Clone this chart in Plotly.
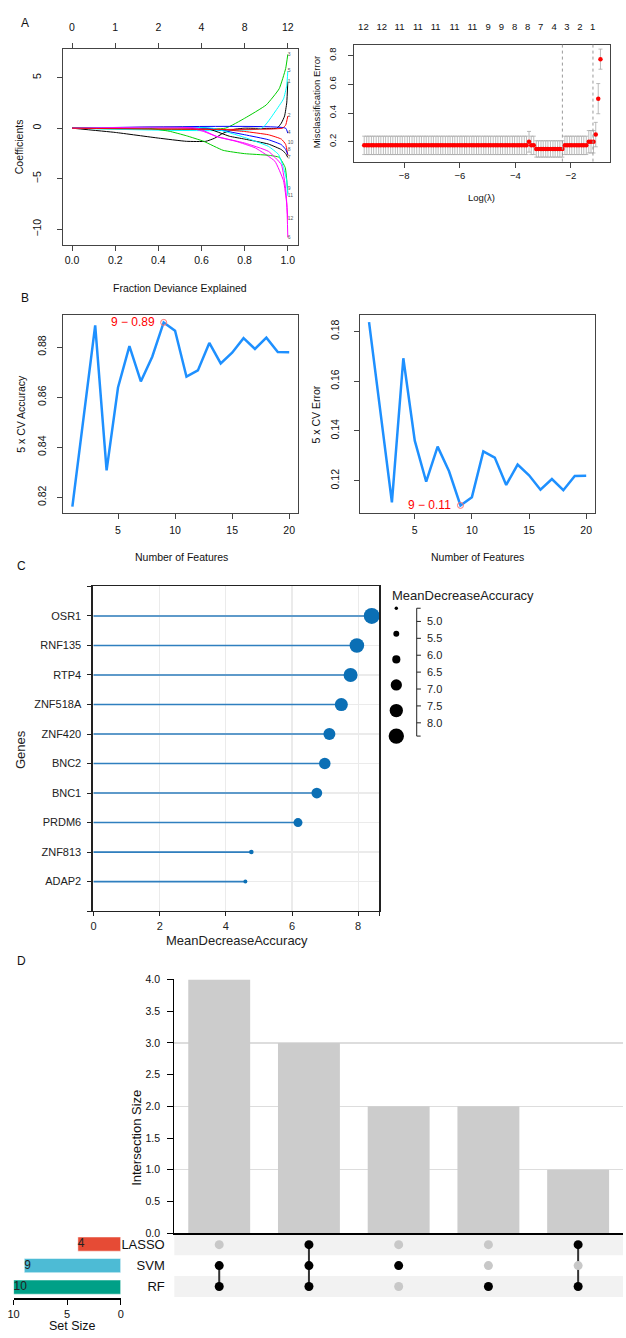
import plotly.graph_objects as go

W, H = 626, 1338
FONT = "Liberation Sans, Arial, Helvetica, sans-serif"


def fx(px):
    return px / W


def fy(py):
    return 1 - py / H


# ---------------- Panel A (left): LASSO coefficient paths ----------------
black1_dev = [0, 0.2, 0.4, 0.53, 0.62, 0.66, 0.70, 0.75, 0.80, 0.95, 0.97, 0.985, 0.995, 1.0]
black1_coef = [0, -0.42, -0.98, -1.3, -1.3, -1.0, -0.5, -0.12, 0, 0, 0.5, 1.2, 2.5, 4.6]
red1_dev = [0, 0.975, 0.99, 1.0]
red1_coef = [0, 0, 0.3, 1.2]
green1_dev = [0, 0.71, 0.8, 0.9, 0.96, 0.99, 1.0]
green1_coef = [0, 0, 0.98, 2.3, 3.9, 5.9, 7.3]
blue1_dev = [0, 0.99, 1.0]
blue1_coef = [0, 0, -0.5]
cyan1_dev = [0, 0.88, 0.94, 0.98, 0.995, 1.0]
cyan1_coef = [0, 0, 1.6, 2.9, 4.2, 5.65]
magenta1_dev = [0, 0.55, 0.61, 0.68, 0.76, 0.85, 0.94, 0.98, 0.995, 1.0]
magenta1_coef = [0, 0, -0.33, -0.9, -1.3, -1.96, -3.27, -5.2, -7.5, -10.8]
black2_dev = [0, 0.62, 0.73, 0.8, 0.91, 0.97, 0.99, 1.0]
black2_coef = [0, 0, -0.8, -1.08, -1.57, -2.12, -2.5, -2.9]
red2_dev = [0, 0.6, 0.8, 0.91, 0.97, 0.99, 1.0]
red2_coef = [0, 0, -0.33, -0.65, -1.08, -1.6, -2.68]
green2_dev = [0, 0.35, 0.45, 0.53, 0.61, 0.7, 0.8, 0.91, 0.96, 0.988, 1.0]
green2_coef = [0, 0, -0.3, -0.75, -1.3, -2.19, -2.52, -2.68, -2.88, -3.9, -6.4]
blue2_dev = [0, 0.63, 0.8, 0.91, 0.97, 0.99, 1.0]
blue2_coef = [0, 0, -0.65, -1.14, -1.63, -2.1, -2.6]
cyan2_dev = [0, 0.65, 0.8, 0.91, 0.957, 0.98, 0.995, 1.0]
cyan2_coef = [0, 0, -0.92, -1.8, -2.6, -3.9, -5.2, -6.7]
magenta2_dev = [0, 0.58, 0.67, 0.8, 0.91, 0.97, 0.99, 1.0]
magenta2_coef = [0, 0, -0.82, -1.47, -2.29, -3.6, -6.0, -9.0]

dev_ticks = [0, 0.2, 0.4, 0.6, 0.8, 1.0]
df_top_labels = ["0", "1", "2", "4", "8", "12"]

# ---------------- Panel A (right): CV misclassification error ----------------
log_lambda = [-9.44, -9.35, -9.27, -9.18, -9.10, -9.01, -8.92, -8.84, -8.75, -8.67,
              -8.58, -8.49, -8.41, -8.32, -8.24, -8.15, -8.07, -7.98, -7.89, -7.81,
              -7.72, -7.64, -7.55, -7.46, -7.38, -7.29, -7.21, -7.12, -7.03, -6.95,
              -6.86, -6.78, -6.69, -6.61, -6.52, -6.43, -6.35, -6.26, -6.18, -6.09,
              -6.00, -5.92, -5.83, -5.75, -5.66, -5.57, -5.49, -5.40, -5.32, -5.23,
              -5.14, -5.06, -4.97, -4.89, -4.80, -4.71, -4.63, -4.54, -4.46, -4.37,
              -4.29, -4.20, -4.11, -4.03, -3.94, -3.86, -3.77, -3.68, -3.60, -3.51,
              -3.43, -3.34, -3.25, -3.17, -3.08, -3.00, -2.91, -2.83, -2.74, -2.65,
              -2.57, -2.48, -2.40, -2.31, -2.22, -2.14, -2.05, -1.97, -1.88, -1.79,
              -1.71, -1.62, -1.54, -1.45, -1.36, -1.28, -1.19, -1.11, -1.02, -0.94]
cv_error = [0.175, 0.175, 0.175, 0.175, 0.175, 0.175, 0.175, 0.175, 0.175, 0.175,
            0.175, 0.175, 0.175, 0.175, 0.175, 0.175, 0.175, 0.175, 0.175, 0.175,
            0.175, 0.175, 0.175, 0.175, 0.175, 0.175, 0.175, 0.175, 0.175, 0.175,
            0.175, 0.175, 0.175, 0.175, 0.175, 0.175, 0.175, 0.175, 0.175, 0.175,
            0.175, 0.175, 0.175, 0.175, 0.175, 0.175, 0.175, 0.175, 0.175, 0.175,
            0.175, 0.175, 0.175, 0.175, 0.175, 0.175, 0.175, 0.175, 0.175, 0.175,
            0.175, 0.175, 0.175, 0.175, 0.175, 0.175, 0.175, 0.175, 0.175, 0.200,
            0.175, 0.175, 0.150, 0.150, 0.150, 0.150, 0.150, 0.150, 0.150, 0.150,
            0.150, 0.150, 0.150, 0.150, 0.175, 0.175, 0.175, 0.175, 0.175, 0.175,
            0.175, 0.175, 0.175, 0.175, 0.200, 0.200, 0.200, 0.250, 0.500, 0.775]
cv_se = [0.064, 0.064, 0.064, 0.064, 0.064, 0.064, 0.064, 0.064, 0.064, 0.064,
         0.064, 0.064, 0.064, 0.064, 0.064, 0.064, 0.064, 0.064, 0.064, 0.064,
         0.064, 0.064, 0.064, 0.064, 0.064, 0.064, 0.064, 0.064, 0.064, 0.064,
         0.064, 0.064, 0.064, 0.064, 0.064, 0.064, 0.064, 0.064, 0.064, 0.064,
         0.064, 0.064, 0.064, 0.064, 0.064, 0.064, 0.064, 0.064, 0.064, 0.064,
         0.064, 0.064, 0.064, 0.064, 0.064, 0.064, 0.064, 0.064, 0.064, 0.064,
         0.064, 0.064, 0.064, 0.064, 0.064, 0.064, 0.064, 0.064, 0.064, 0.072,
         0.064, 0.064, 0.057, 0.057, 0.057, 0.057, 0.057, 0.057, 0.057, 0.057,
         0.057, 0.057, 0.057, 0.057, 0.064, 0.064, 0.064, 0.064, 0.064, 0.064,
         0.064, 0.064, 0.064, 0.064, 0.078, 0.078, 0.078, 0.085, 0.105, 0.070]
lambda_min_log = -2.31
lambda_1se_log = -1.21
top_loglam = [-9.47, -8.81, -8.17, -7.51, -6.87, -6.19, -5.55, -4.98,
              -4.50, -4.03, -3.56, -3.09, -2.61, -2.15, -1.68, -1.22]
top_df = ["12", "12", "11", "11", "11", "11", "11", "9", "9", "8", "8", "7", "4", "3", "2", "1"]

# ---------------- Panel B: SVM-RFE cross validation ----------------
n_features = [1, 2, 3, 4, 5, 6, 7, 8, 9, 10, 11, 12, 13, 14, 15, 16, 17, 18, 19, 20]
cv_accuracy = [0.8163, 0.8526, 0.8887, 0.8308, 0.8639, 0.8804, 0.8663, 0.8762, 0.8899, 0.8866,
               0.8682, 0.8707, 0.8817, 0.8735, 0.8778, 0.8836, 0.8793, 0.8838, 0.8781, 0.8780]
cv_err5 = [round(1 - a, 4) for a in cv_accuracy]

# ---------------- Panel C: random forest importance ----------------
genes = ["OSR1", "RNF135", "RTP4", "ZNF518A", "ZNF420", "BNC2", "BNC1", "PRDM6", "ZNF813", "ADAP2"]
mda = [8.41, 7.96, 7.77, 7.49, 7.13, 6.99, 6.75, 6.18, 4.77, 4.59]
legend_mda_values = [4.4, 5.2, 5.9, 6.9, 7.55, 8.2]
legend_labels = ["5.0", "5.5", "6.0", "6.5", "7.0", "7.5", "8.0"]

# ---------------- Panel D: UpSet ----------------
set_names = ["LASSO", "SVM", "RF"]
set_sizes = [4, 9, 10]
set_colors = ["#E64B35", "#4DBBD5", "#00A087"]
intersections = [["SVM", "RF"], ["LASSO", "SVM", "RF"], ["SVM"], ["RF"], ["LASSO", "RF"]]
intersection_sizes = [4, 3, 2, 2, 1]

# =====================================================================
fig = go.Figure()
NOHOV = dict(hoverinfo="skip", showlegend=False)
ann = []

paths = [
    (black1_dev, black1_coef, "black", "1"),
    (green1_dev, green1_coef, "#00CD00", "3"),
    (blue1_dev, blue1_coef, "blue", "4"),
    (cyan1_dev, cyan1_coef, "cyan", "5"),
    (magenta1_dev, magenta1_coef, "magenta", "6"),
    (black2_dev, black2_coef, "black", "7"),
    (red2_dev, red2_coef, "red", "8"),
    (green2_dev, green2_coef, "#00CD00", "9"),
    (blue2_dev, blue2_coef, "blue", "10"),
    (cyan2_dev, cyan2_coef, "cyan", "11"),
    (magenta2_dev, magenta2_coef, "magenta", "12"),
    (red1_dev, red1_coef, "red", "2"),
]
for dev, coef, col, lab in paths:
    fig.add_trace(go.Scatter(x=dev, y=coef, mode="lines",
                             line=dict(color=col, width=1, shape="spline", smoothing=0.4),
                             xaxis="x", yaxis="y", **NOHOV))

ends = sorted([(p[1][-1], p[3]) for p in paths])
lab_y, last = [], None
for v, _ in ends:
    y = v if last is None else max(v, last + 0.75)
    lab_y.append(y)
    last = y
fig.add_trace(go.Scatter(x=[1.0] * len(ends), y=lab_y,
                         mode="text", text=[e[1] for e in ends], textposition="middle right",
                         textfont=dict(size=5, color="#555", family=FONT),
                         xaxis="x", yaxis="y", cliponaxis=False, **NOHOV))
fig.add_trace(go.Scatter(x=[], y=[], xaxis="x2", yaxis="y", **NOHOV))

fig.add_trace(go.Scatter(x=log_lambda, y=cv_error, mode="markers",
                         marker=dict(color="red", size=4.5, opacity=1),
                         error_y=dict(type="data", array=cv_se, color="#AAAAAA", thickness=0.8, width=2),
                         xaxis="x3", yaxis="y3", **NOHOV))
fig.add_trace(go.Scatter(x=[], y=[], xaxis="x4", yaxis="y3", **NOHOV))

best_i = max(range(len(cv_accuracy)), key=lambda i: cv_accuracy[i])
best_j = min(range(len(cv_err5)), key=lambda i: cv_err5[i])
for vals, bi, xa, ya in ((cv_accuracy, best_i, "x5", "y5"), (cv_err5, best_j, "x6", "y6")):
    fig.add_trace(go.Scatter(x=n_features, y=vals, mode="lines",
                             line=dict(color="#1E90FF", width=2.5), xaxis=xa, yaxis=ya, **NOHOV))
    fig.add_trace(go.Scatter(x=[n_features[bi]], y=[vals[bi]], mode="markers",
                             marker=dict(symbol="circle-open", size=6, color="#FF7070", line=dict(width=1)),
                             xaxis=xa, yaxis=ya, cliponaxis=False, **NOHOV))
    ann.append(dict(text=f"{n_features[bi]} \u2212 {vals[bi]:.2f}", x=n_features[bi], y=vals[bi],
                    xref=xa, yref=ya, xanchor="right", yanchor="middle", xshift=-7, showarrow=False,
                    font=dict(color="red", size=12, family=FONT)))

ng = len(genes)
gpos = [ng - i for i in range(ng)]
vmin, vmax = min(mda), max(mda)


def dot_d(v):
    return 4 + (v - vmin) / (vmax - vmin) * 12


seg_x, seg_y = [], []
for v, p in zip(mda, gpos):
    seg_x += [0, v, None]
    seg_y += [p, p, None]
fig.add_trace(go.Scatter(x=seg_x, y=seg_y, mode="lines", line=dict(color="#2F7FBF", width=1.6),
                         xaxis="x7", yaxis="y7", **NOHOV))
fig.add_trace(go.Scatter(x=mda, y=gpos, mode="markers",
                         marker=dict(color="#0B6FB5", size=[dot_d(v) for v in mda], line=dict(width=0),
                                     opacity=1),
                         xaxis="x7", yaxis="y7", cliponaxis=False, **NOHOV))
leg_dot_y = [607.7 + k * 25.8 for k in range(len(legend_mda_values))]
fig.add_trace(go.Scatter(x=[396] * len(legend_mda_values), y=leg_dot_y, mode="markers",
                         marker=dict(color="black", size=[dot_d(v) for v in legend_mda_values],
                                     line=dict(width=0), opacity=1),
                         xaxis="x8", yaxis="y8", cliponaxis=False, **NOHOV))

ix = list(range(1, len(intersections) + 1))
fig.add_trace(go.Bar(x=ix, y=intersection_sizes, width=0.69, marker=dict(color="#CCCCCC", line=dict(width=0)),
                     xaxis="x9", yaxis="y9", **NOHOV))
row_of = {s: len(set_names) - k for k, s in enumerate(set_names)}
for i, members in zip(ix, intersections):
    rows = [row_of[m] for m in members]
    if len(rows) > 1:
        fig.add_trace(go.Scatter(x=[i, i], y=[min(rows), max(rows)], mode="lines",
                                 line=dict(color="#333333", width=2), xaxis="x10", yaxis="y10", **NOHOV))
mx, my, mc = [], [], []
for i, members in zip(ix, intersections):
    for s in set_names:
        mx.append(i)
        my.append(row_of[s])
        mc.append("black" if s in members else "#C8C8C8")
fig.add_trace(go.Scatter(x=mx, y=my, mode="markers", marker=dict(color=mc, size=9, opacity=1),
                         xaxis="x10", yaxis="y10", **NOHOV))
fig.add_trace(go.Bar(x=set_sizes, y=[row_of[s] for s in set_names], orientation="h", width=0.66,
                     marker=dict(color=set_colors, line=dict(color="rgba(255,255,255,0.5)", width=1)),
                     xaxis="x11", yaxis="y11", **NOHOV))
fig.add_trace(go.Scatter(x=set_sizes, y=[row_of[s] for s in set_names], mode="text",
                         text=[str(v) for v in set_sizes], textposition="middle right",
                         textfont=dict(size=12, color="#222", family=FONT),
                         xaxis="x11", yaxis="y11", cliponaxis=False, **NOHOV))

BOX = dict(showgrid=False, zeroline=False, showline=True, linecolor="#444", linewidth=1, mirror=True,
           ticks="outside", ticklen=5, tickcolor="#444", tickwidth=1,
           tickfont=dict(size=10.5, color="#111", family=FONT))


def ax(**kw):
    d = dict(BOX)
    d.update(kw)
    return d


yA = [fy(241), fy(43)]
yAr = [fy(157), fy(39)]
yB = [fy(511.7), fy(311.7)]

layout = dict(
    width=W, height=H, margin=dict(l=0, r=0, t=0, b=0), autosize=False,
    paper_bgcolor="white", plot_bgcolor="white", showlegend=False,
    font=dict(family=FONT, color="#111"),
    xaxis=ax(domain=[fx(58), fx(296)], range=[-0.041, 1.046], anchor="y",
             tickvals=dev_ticks, ticktext=["0.0", "0.2", "0.4", "0.6", "0.8", "1.0"], ticklabelstandoff=1),
    yaxis=ax(domain=yA, range=[-11.54, 7.87], anchor="x", tickvals=[-10, -5, 0, 5],
             tickangle=-90, ticklabelstandoff=12),
    xaxis2=dict(overlaying="x", side="top", range=[-0.041, 1.046], anchor="y", showgrid=False, zeroline=False,
                showline=False, ticks="outside", ticklen=5, tickcolor="#444",
                tickvals=dev_ticks, ticktext=df_top_labels, ticklabelstandoff=7,
                tickfont=dict(size=10.5, color="#111", family=FONT)),
    xaxis3=ax(domain=[fx(353), fx(613)], range=[-9.81, -0.59], anchor="y3", tickvals=[-8, -6, -4, -2],
              tickfont=dict(size=9.5, color="#111", family=FONT), ticklabelstandoff=0),
    yaxis3=ax(domain=yAr, range=[0.062, 0.876], anchor="x3", tickvals=[0.2, 0.4, 0.6, 0.8], tickangle=-90,
              tickfont=dict(size=9.5, color="#111", family=FONT), ticklabelstandoff=8),
    xaxis4=dict(overlaying="x3", side="top", range=[-9.81, -0.59], anchor="y3", showgrid=False, zeroline=False,
                showline=False, ticks="", tickvals=top_loglam, ticktext=top_df, ticklabelstandoff=12,
                tickfont=dict(size=9.5, color="#111", family=FONT)),
    xaxis5=ax(domain=[fx(58.3), fx(296.7)], range=[0.22, 20.81], anchor="y5", tickvals=[5, 10, 15, 20],
              ticklabelstandoff=2),
    yaxis5=ax(domain=yB, range=[0.8137, 0.8929], anchor="x5", tickvals=[0.82, 0.84, 0.86, 0.88],
              tickangle=-90, ticklabelstandoff=7),
    xaxis6=ax(domain=[fx(359.3), fx(597.7)], range=[0.22, 20.78], anchor="y6", tickvals=[5, 10, 15, 20],
              ticklabelstandoff=2),
    yaxis6=ax(domain=yB, range=[0.107, 0.1866], anchor="x6", tickvals=[0.12, 0.14, 0.16, 0.18],
              tickangle=-90, ticklabelstandoff=11),
    xaxis7=dict(domain=[fx(88), fx(378.8)], range=[-0.025, 8.64], anchor="y7", zeroline=False,
                showline=True, mirror=True, linecolor="#222", linewidth=1.3,
                showgrid=True, gridcolor="#EBEBEB", gridwidth=1.2,
                ticks="outside", ticklen=4, tickcolor="#222",
                tickvals=[0, 2, 4, 6, 8, 8.64], ticktext=["0", "2", "4", "6", "8", ""],
                tickfont=dict(size=11, color="#222", family=FONT), ticklabelstandoff=0),
    yaxis7=dict(domain=[fy(913.3), fy(585.7)], range=[0, ng + 1], anchor="x7", zeroline=False,
                showline=True, mirror=True, linecolor="#222", linewidth=1.3,
                showgrid=True, gridcolor="#EBEBEB", gridwidth=1.2,
                ticks="outside", ticklen=4, tickcolor="#222",
                tickvals=[0] + gpos[::-1] + [ng + 1], ticktext=[""] + genes[::-1] + [""],
                tickfont=dict(size=11, color="#222", family=FONT), ticklabelstandoff=4),
    xaxis8=dict(domain=[fx(380), fx(460)], range=[380, 460], anchor="y8", visible=False),
    yaxis8=dict(domain=[fy(745), fy(600)], range=[745, 600], anchor="x8", visible=False),
    xaxis9=dict(domain=[fx(170.8), 1], range=[0.5, 5.5], anchor="y9", showline=True, linecolor="black",
                linewidth=1.5, ticks="", showticklabels=False, showgrid=False, zeroline=False),
    yaxis9=dict(domain=[fy(1238.3), fy(982.3)], range=[0, 4], anchor="x9", showline=True, linecolor="black",
                linewidth=1.2, ticks="outside", ticklen=6, tickcolor="black", zeroline=False, showgrid=False,
                tickvals=[0, 0.5, 1, 1.5, 2, 2.5, 3, 3.5, 4], tickformat=".1f",
                minor=dict(tickvals=[1, 2, 3, 4], showgrid=True, gridcolor="#DDDDDD", gridwidth=1.2, ticks=""),
                tickfont=dict(size=10.5, color="#111", family=FONT), ticklabelstandoff=5),
    xaxis10=dict(domain=[fx(170.8), 1], range=[0.5, 5.5], anchor="y10", visible=False),
    yaxis10=dict(domain=[fy(1302.7), fy(1239.3)], range=[0.5, 3.5], anchor="x10", showline=False,
                 ticks="outside", ticklen=4, tickcolor="rgba(0,0,0,0)", showgrid=False, zeroline=False,
                 tickvals=[row_of[s] for s in set_names], ticktext=set_names,
                 tickfont=dict(size=13, color="#111", family=FONT), ticklabelstandoff=2),
    xaxis11=dict(domain=[fx(7.7), fx(116.4)], range=[10, 0], anchor="y11", showline=True, linecolor="black",
                 linewidth=1.2, ticks="outside", ticklen=5, tickcolor="black", tickvals=[0, 5, 10],
                 showgrid=False, zeroline=False,
                 tickfont=dict(size=11, color="#111", family=FONT), ticklabelstandoff=0),
    yaxis11=dict(domain=[fy(1304), fy(1239.3)], range=[0.479, 3.46], anchor="x11", visible=False),
)
fig.update_layout(**layout)

shapes = []
for v in (lambda_min_log, lambda_1se_log):
    shapes.append(dict(type="line", xref="x3", yref="y3 domain", x0=v, x1=v, y0=0, y1=1,
                       line=dict(color="#999999", width=1, dash="dot")))
for s in ("LASSO", "RF"):
    r = row_of[s]
    shapes.append(dict(type="rect", xref="paper", yref="y10", x0=fx(170.8), x1=1, y0=r - 0.5, y1=r + 0.5,
                       fillcolor="#F2F2F2", line=dict(width=0), layer="below"))
shapes.append(dict(type="path", xref="paper", yref="paper",
                   path=f"M {fx(420.7)} {fy(607.7)} L {fx(416.7)} {fy(607.7)} L {fx(416.7)} {fy(736.7)} "
                        f"L {fx(420.7)} {fy(736.7)}",
                   line=dict(color="#222", width=1)))
leg_lab_y = [621 + k * 17.05 for k in range(len(legend_labels))]
for yy in leg_lab_y:
    shapes.append(dict(type="line", xref="paper", yref="paper", x0=fx(416.7), x1=fx(421), y0=fy(yy), y1=fy(yy),
                       line=dict(color="#222", width=1)))
fig.update_layout(shapes=shapes)


def txt(s, x, y, size, rot=0, xanchor="center", color="#111"):
    ann.append(dict(text=s, x=fx(x), y=fy(y), xref="paper", yref="paper", showarrow=False,
                    textangle=rot, xanchor=xanchor, yanchor="middle",
                    font=dict(size=size, color=color, family=FONT)))


txt("A", 19, 17, 12)
txt("B", 19, 295, 12)
txt("C", 16, 565, 12)
txt("D", 16, 964, 12)
txt("Coefficients", 14, 141.7, 10.5, rot=-90)
txt("Fraction Deviance Explained", 176.7, 285, 10.5)
txt("Misclassification Error", 315, 96.7, 9.5, rot=-90)
txt("Log(\u03bb)", 482.7, 193, 9.5)
txt("5 x CV Accuracy", 15, 411.7, 10.5, rot=-90)
txt("Number of Features", 177.7, 556, 10.5)
txt("5 x CV Error", 315, 411.7, 10.5, rot=-90)
txt("Number of Features", 478.7, 556, 10.5)
txt("Genes", 14, 750, 13, rot=-90, color="#222")
txt("MeanDecreaseAccuracy", 234, 943.3, 13, color="#222")
txt("MeanDecreaseAccuracy", 390, 595, 13, xanchor="left", color="#222")
for lab, yy in zip(legend_labels, leg_lab_y):
    txt(lab, 425.5, yy, 11, xanchor="left", color="#222")
txt("Intersection Size", 133, 1142, 13, rot=-90)
txt("Set Size", 67.2, 1331.5, 12.5)
fig.update_layout(annotations=ann)

fig.write_html("out.html", config={"displayModeBar": False, "staticPlot": True},
               post_script="document.body.style.margin='0px';document.body.style.padding='0px';"
                           "document.documentElement.style.overflow='hidden';")
